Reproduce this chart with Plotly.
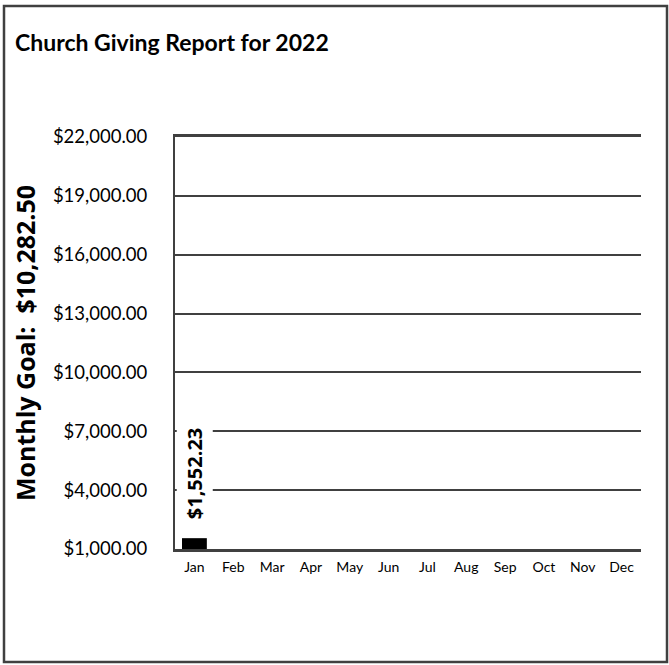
import plotly.graph_objects as go

months = ["Jan", "Feb", "Mar", "Apr", "May", "Jun", "Jul", "Aug", "Sep", "Oct", "Nov", "Dec"]
giving = [1552.23, None, None, None, None, None, None, None, None, None, None, None]
y_ticks = [1000, 4000, 7000, 10000, 13000, 16000, 19000, 22000]
monthly_goal = 10282.50
title_text = "Church Giving Report for 2022"

W, H = 669, 665
L, R, T, B = 175, 641, 137, 549  # plot area pixel bounds
FONT = "Lato, Open Sans, sans-serif"
BOLD = "Open Sans, Lato, sans-serif"
DARK = "#404040"

fig = go.Figure()
fig.add_trace(go.Bar(x=months, y=giving, marker=dict(color="black", line=dict(width=0)),
                     width=0.64, hoverinfo="x+y"))

# data labels
for m, v in zip(months, giving):
    if v is not None:
        fig.add_annotation(x=m, y=v, text=f"&nbsp;&nbsp;<b>${v:,.2f}</b>&nbsp;&nbsp;", textangle=-90,
                           showarrow=False, yanchor="bottom", xanchor="center",
                           bgcolor="white", borderpad=4, yshift=4,
                           font=dict(family=BOLD, size=20, color="black"))

pw, ph = R - L, B - T
fig.add_shape(type="rect", xref="paper", yref="paper",
              x0=(4 - L) / pw, x1=(667 - L) / pw,
              y0=(B - 662) / ph, y1=(B - 6) / ph,
              line=dict(color=DARK, width=2.5), fillcolor="rgba(0,0,0,0)", layer="below")

fig.update_layout(
    width=W, height=H,
    margin=dict(l=L, r=W - R, t=T, b=H - B),
    paper_bgcolor="white", plot_bgcolor="white",
    showlegend=False,
    bargap=0.36,
    title=dict(text=f"<b>{title_text}</b>", xref="container", yref="container",
               x=15 / W, y=1 - 43 / H, xanchor="left", yanchor="middle",
               font=dict(family=FONT, size=23, color="black")),
    font=dict(family=FONT, color="black"),
)
fig.update_yaxes(range=[1000, 22000], tickvals=y_ticks, tickformat="$,.2f",
                 showgrid=True, gridcolor=DARK, gridwidth=2,
                 showline=True, linecolor=DARK, linewidth=2,
                 zeroline=False, ticks="", ticklabelstandoff=22,
                 tickfont=dict(family=FONT, size=18.5, color="black"),
                 title=dict(text=f"<b>Monthly Goal:&nbsp;&nbsp;${monthly_goal:,.2f}</b>", standoff=10,
                            font=dict(family=BOLD, size=25, color="black")))
fig.update_xaxes(showgrid=False, showline=True, linecolor=DARK, linewidth=2.5, mirror=True,
                 ticks="", ticklabelstandoff=3,
                 tickfont=dict(family=FONT, size=14, color="black"))

fig.write_html("out.html", config={"displayModeBar": False},
               post_script="document.body.style.margin='0';")
